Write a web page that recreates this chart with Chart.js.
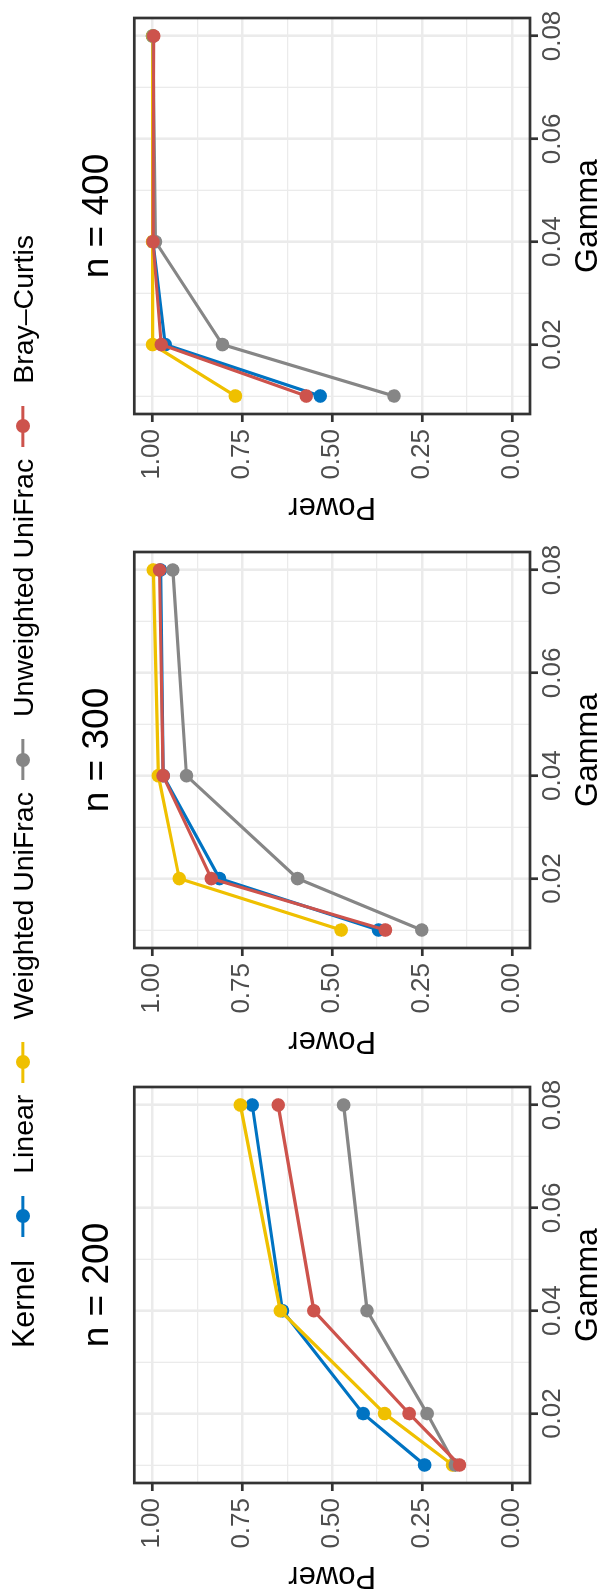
<!DOCTYPE html>
<html>
<head>
<meta charset="utf-8">
<script src="https://cdn.jsdelivr.net/npm/chart.js@4.4.1/dist/chart.umd.min.js"></script>
<style>
  html, body { margin: 0; padding: 0; background: #fff; }
  body { width: 608px; height: 1591px; overflow: hidden; position: relative; }
  /* the figure is laid out landscape and turned a quarter turn */
  #page {
    position: absolute; left: 0; top: 0; width: 1591px; height: 608px;
    transform-origin: 0 0; transform: translate(0, 1591px) rotate(-90deg);
    font-family: "Liberation Sans", Arial, sans-serif; background: #fff;
  }
  #page canvas { position: absolute; top: 0; }
  #legend {
    position: absolute; left: 0; top: 0; width: 1591px; height: 46px; box-sizing: border-box;
    padding-left: 8px;
    display: flex; justify-content: center; align-items: center; z-index: 2;
  }
  .ltitle { font-size: 30.5px; color: #000; margin-right: 23px; white-space: nowrap; }
  .ltext { font-size: 28.5px; color: #000; margin-right: 12px; white-space: nowrap; }
  .key { position: relative; width: 41px; height: 16px; margin-right: 22px; }
  .key::before {
    content: ''; position: absolute; left: 0; right: 0; top: 50%; height: 3.3px;
    transform: translateY(-50%); background: var(--c);
  }
  .key::after {
    content: ''; position: absolute; left: 50%; top: 50%; width: 14px; height: 14px;
    border-radius: 50%; background: var(--c); transform: translate(-50%, -50%);
  }
</style>
</head>
<body>
<div id="page">
  <div id="legend"></div>
</div>
<script>
// data
const gamma = [0.01, 0.02, 0.04, 0.08];
const methods = ['Linear', 'Weighted UniFrac', 'Unweighted UniFrac', 'Bray\u2013Curtis'];
const methodColors = ['#0073C2', '#EFC000', '#868686', '#CD534C'];
const gammaTicks = [0.02, 0.04, 0.06, 0.08];
const powerTicks = [0, 0.25, 0.5, 0.75, 1];
const sampleSizes = [200, 300, 400];

// power, one row per method (same order as methods), one value per gamma
const power200 = [
  [0.243, 0.414, 0.638, 0.722],
  [0.165, 0.354, 0.644, 0.755],
  [0.158, 0.236, 0.403, 0.468],
  [0.146, 0.286, 0.551, 0.650]
];
const power300 = [
  [0.371, 0.813, 0.970, 0.977],
  [0.475, 0.925, 0.983, 0.997],
  [0.251, 0.596, 0.905, 0.943],
  [0.352, 0.836, 0.970, 0.980]
];
const power400 = [
  [0.533, 0.964, 0.998, 0.999],
  [0.769, 0.999, 0.999, 0.999],
  [0.328, 0.805, 0.991, 0.998],
  [0.572, 0.975, 0.998, 0.996]
];
const powerByN = [power200, power300, power400];

// layout (landscape coordinates)
const panelLeft = [108, 643, 1177];
const yAxisWidth = 108;
const panelSize = 396;
const rightPad = 20;

const FONT = '"Liberation Sans", Arial, sans-serif';
Chart.defaults.font.family = FONT;

// major ticks plus a minor line halfway between them
function withMinor(major) {
  const step = major[1] - major[0];
  const out = [];
  major.forEach((v, i) => {
    out.push({ value: v - step / 2, minor: true });
    out.push({ value: v, minor: false });
  });
  return out;
}
const gammaGrid = withMinor(gammaTicks);
const powerGrid = withMinor(powerTicks).filter(t => t.value >= 0);

const panelBorder = {
  id: 'panelBorder',
  afterDatasetsDraw(chart) {
    const { ctx, chartArea: a } = chart;
    ctx.save();
    ctx.strokeStyle = '#333333';
    ctx.lineWidth = 2.7;
    ctx.strokeRect(a.left, a.top, a.right - a.left, a.bottom - a.top);
    ctx.restore();
  }
};

const gridOpts = {
  color: '#EBEBEB',
  lineWidth: c => (c.tick && c.tick.minor ? 1.3 : 2.6),
  drawTicks: true,
  tickLength: 8,
  tickWidth: 2.7,
  tickColor: c => (c.tick && c.tick.minor ? 'rgba(0,0,0,0)' : '#333333')
};

function makePanel(idx) {
  const canvas = document.createElement('canvas');
  canvas.width = yAxisWidth + panelSize + rightPad;
  canvas.height = 608;
  canvas.style.left = (panelLeft[idx] - yAxisWidth) + 'px';
  document.getElementById('page').appendChild(canvas);

  const rows = powerByN[idx];
  return new Chart(canvas, {
    type: 'line',
    data: {
      datasets: methods.map((m, i) => ({
        label: m,
        data: gamma.map((g, j) => ({ x: g, y: rows[i][j] })),
        borderColor: methodColors[i],
        backgroundColor: methodColors[i],
        pointBackgroundColor: methodColors[i],
        pointBorderWidth: 0,
        pointRadius: 6.8,
        borderWidth: 3.2,
        tension: 0,
        order: methods.length - i
      }))
    },
    options: {
      responsive: false,
      animation: false,
      devicePixelRatio: 1,
      layout: { padding: { left: 0, top: 0, bottom: 0, right: rightPad } },
      plugins: {
        legend: { display: false },
        tooltip: { enabled: false },
        title: {
          display: true,
          text: 'n = ' + sampleSizes[idx],
          fullSize: false,
          color: '#000',
          font: { size: 37, weight: 'normal', lineHeight: 1.2 },
          padding: { top: 75.8, bottom: 14.1 }
        }
      },
      scales: {
        x: {
          type: 'linear',
          position: 'bottom',
          min: 0.0065,
          max: 0.0835,
          afterBuildTicks: s => { s.ticks = gammaGrid.map(t => ({ ...t })); },
          afterFit: s => { s.height = 608 - 530; s.paddingLeft = 0; s.paddingRight = 0; },
          grid: gridOpts,
          border: { display: false },
          ticks: {
            autoSkip: false, maxRotation: 0, minRotation: 0, padding: 0,
            color: '#4D4D4D',
            font: { size: 26, lineHeight: 1.15 },
            callback: (v, i, t) => (t[i].minor ? '' : v.toFixed(2))
          },
          title: {
            display: true, text: 'Gamma', color: '#000',
            font: { size: 32, lineHeight: 1 },
            padding: { top: 0, bottom: 4 }
          }
        },
        y: {
          type: 'linear',
          min: -0.05,
          max: 1.05,
          afterBuildTicks: s => { s.ticks = powerGrid.map(t => ({ ...t })); },
          afterFit: s => { s.width = yAxisWidth; s.paddingTop = 0; s.paddingBottom = 0; },
          grid: gridOpts,
          border: { display: false },
          ticks: {
            autoSkip: false, padding: 7,
            color: '#4D4D4D',
            font: { size: 26 },
            callback: (v, i, t) => (t[i].minor ? '' : v.toFixed(2))
          },
          title: {
            display: true, text: 'Power', color: '#000',
            font: { size: 31, lineHeight: 1 },
            padding: { top: 0, bottom: 0 }
          }
        }
      }
    },
    plugins: [panelBorder]
  });
}

function buildLegend() {
  const box = document.getElementById('legend');
  const t = document.createElement('span');
  t.className = 'ltitle';
  t.textContent = 'Kernel';
  box.appendChild(t);
  methods.forEach((m, i) => {
    const k = document.createElement('div');
    k.className = 'key';
    k.style.setProperty('--c', methodColors[i]);
    box.appendChild(k);
    const s = document.createElement('span');
    s.className = 'ltext';
    s.textContent = m;
    if (i === methods.length - 1) s.style.marginRight = '0';
    box.appendChild(s);
  });
}

buildLegend();
sampleSizes.forEach((n, i) => makePanel(i));
</script>
</body>
</html>
